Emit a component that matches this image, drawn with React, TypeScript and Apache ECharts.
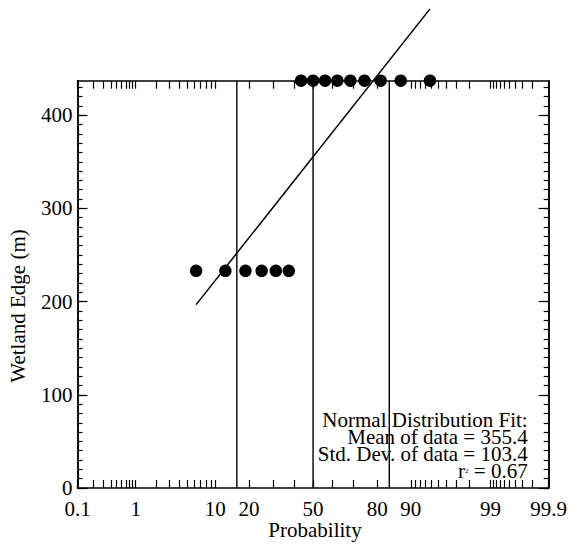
import React, { useEffect, useRef } from "react";
import * as echarts from "echarts";

// ---- data ----
// Plotting positions (percent) of the 15 sorted observations: i/(n+1)
const PROBABILITIES = [6.25, 12.5, 18.75, 25, 31.25, 37.5, 43.75, 50, 56.25, 62.5, 68.75, 75, 81.25, 87.5, 93.75];
const WETLAND_EDGE = [233, 233, 233, 233, 233, 233, 437, 437, 437, 437, 437, 437, 437, 437, 437];
const MEAN = 355.4;
const STD_DEV = 103.4;
const R_SQUARED = "0.67";
// vertical reference lines at mean-1sd, mean, mean+1sd (percent)
const SIGMA_PROBS = [15.87, 50, 84.13];
// axis ticks
const X_TICK_PROBS = [0.1, 0.2, 0.3, 0.4, 0.5, 0.6, 0.7, 0.8, 0.9, 1, 2, 3, 4, 5, 6, 7, 8, 9, 10, 20, 30, 40, 50, 60, 70, 80, 90, 91, 92, 93, 94, 95, 96, 97, 98, 99, 99.1, 99.2, 99.3, 99.4, 99.5, 99.6, 99.7, 99.8, 99.9];
const X_LABEL_PROBS = [0.1, 1, 10, 20, 50, 80, 90, 99, 99.9];
const X_LABELS = ["0.1", "1", "10", "20", "50", "80", "90", "99", "99.9"];
const Y_LABELS = [0, 100, 200, 300, 400];
const Y_MAX = 437;

const FONT = "'Liberation Serif', 'Times New Roman', serif";
const FS = 21;

// inverse standard normal CDF (probability-axis scale)
function normInv(pPercent: number): number {
  const p = pPercent / 100;
  const a = [-3.969683028665376e1, 2.209460984245205e2, -2.759285104469687e2, 1.38357751867269e2, -3.066479806614716e1, 2.506628277459239];
  const b = [-5.447609879822406e1, 1.615858368580409e2, -1.556989798598866e2, 6.680131188771972e1, -1.328068155288572e1];
  const c = [-7.784894002430293e-3, -3.223964580411365e-1, -2.400758277161838, -2.549732539343734, 4.374664141464968, 2.938163982698783];
  const d = [7.784695709041462e-3, 3.224671290700398e-1, 2.445134137142996, 3.754408661907416];
  const plow = 0.02425;
  const phigh = 1 - plow;
  if (p < plow) {
    const q = Math.sqrt(-2 * Math.log(p));
    return (((((c[0] * q + c[1]) * q + c[2]) * q + c[3]) * q + c[4]) * q + c[5]) /
      ((((d[0] * q + d[1]) * q + d[2]) * q + d[3]) * q + 1);
  }
  if (p <= phigh) {
    const q = p - 0.5;
    const r = q * q;
    return ((((((a[0] * r + a[1]) * r + a[2]) * r + a[3]) * r + a[4]) * r + a[5]) * q) /
      (((((b[0] * r + b[1]) * r + b[2]) * r + b[3]) * r + b[4]) * r + 1);
  }
  const q = Math.sqrt(-2 * Math.log(1 - p));
  return -(((((c[0] * q + c[1]) * q + c[2]) * q + c[3]) * q + c[4]) * q + c[5]) /
    ((((d[0] * q + d[1]) * q + d[2]) * q + d[3]) * q + 1);
}

export default function App() {
  const ref = useRef<HTMLDivElement>(null);

  useEffect(() => {
    document.body.style.margin = "0";
    if (!ref.current) return;
    const chart = echarts.init(ref.current, undefined, { renderer: "svg" });

    const xMin = normInv(X_LABEL_PROBS[0]);
    const xMax = normInv(X_LABEL_PROBS[X_LABEL_PROBS.length - 1]);
    const tickZ = X_TICK_PROBS.map(normInv);
    const labelZ = X_LABEL_PROBS.map(normInv);
    const fmtX = (v: number) => {
      let best = 0;
      let bd = Infinity;
      labelZ.forEach((z, i) => {
        const dd = Math.abs(z - v);
        if (dd < bd) { bd = dd; best = i; }
      });
      return X_LABELS[best];
    };
    const yMinor: number[] = [];
    for (let v = 0; v <= Y_MAX; v += 10) yMinor.push(v);

    const axisLine = { show: true, onZero: false, lineStyle: { color: "#000", width: 1.5 } };
    const tickLine = { color: "#000", width: 1.2 };

    const points = PROBABILITIES.map((p, i) => [normInv(p), WETLAND_EDGE[i]]);
    const zLo = normInv(PROBABILITIES[0]);
    const zHi = normInv(PROBABILITIES[PROBABILITIES.length - 1]);
    const fit = [[zLo, MEAN + STD_DEV * zLo], [zHi, MEAN + STD_DEV * zHi]];

    const sigmaSeries = SIGMA_PROBS.map((p) => ({
      type: "line",
      xAxisIndex: 0,
      yAxisIndex: 0,
      data: [[normInv(p), 0], [normInv(p), Y_MAX]],
      symbol: "none",
      lineStyle: { color: "#000", width: 1.4 },
      silent: true,
    }));

    const textBase = { fill: "#000", fontFamily: FONT, fontSize: FS };
    const noteStyle = { ...textBase, align: "right", verticalAlign: "middle" };
    const NOTE_X = 527.7;

    chart.setOption({
      animation: false,
      backgroundColor: "#fff",
      grid: { left: 77.5, right: 18.3, top: 80.7, bottom: 57, containLabel: false },
      xAxis: [
        {
          type: "value", position: "bottom", min: xMin, max: xMax,
          axisLine,
          axisTick: { show: true, inside: true, length: 8, customValues: tickZ, lineStyle: tickLine },
          axisLabel: { show: true, customValues: labelZ, formatter: fmtX, color: "#000", fontFamily: FONT, fontSize: FS, margin: 10 },
          splitLine: { show: false },
        },
        {
          type: "value", position: "top", min: xMin, max: xMax,
          axisLine,
          axisTick: { show: true, inside: true, length: 8, customValues: tickZ, lineStyle: tickLine },
          axisLabel: { show: false },
          splitLine: { show: false },
        },
      ],
      yAxis: [
        {
          type: "value", position: "left", min: 0, max: Y_MAX,
          axisLine,
          axisTick: { show: true, inside: true, length: 10, customValues: Y_LABELS, lineStyle: tickLine },
          axisLabel: { show: true, customValues: Y_LABELS, color: "#000", fontFamily: FONT, fontSize: FS, margin: 5 },
          splitLine: { show: false },
        },
        {
          type: "value", position: "left", min: 0, max: Y_MAX,
          axisLine,
          axisTick: { show: true, inside: true, length: 5, customValues: yMinor, lineStyle: tickLine },
          axisLabel: { show: false },
          splitLine: { show: false },
        },
        {
          type: "value", position: "right", min: 0, max: Y_MAX,
          axisLine,
          axisTick: { show: true, inside: true, length: 10, customValues: Y_LABELS, lineStyle: tickLine },
          axisLabel: { show: false },
          splitLine: { show: false },
        },
        {
          type: "value", position: "right", min: 0, max: Y_MAX,
          axisLine,
          axisTick: { show: true, inside: true, length: 5, customValues: yMinor, lineStyle: tickLine },
          axisLabel: { show: false },
          splitLine: { show: false },
        },
      ],
      series: [
        ...sigmaSeries,
        {
          type: "line",
          xAxisIndex: 0,
          yAxisIndex: 0,
          data: fit,
          symbol: "none",
          clip: false,
          lineStyle: { color: "#000", width: 1.5 },
          silent: true,
        },
        {
          type: "scatter",
          xAxisIndex: 0,
          yAxisIndex: 0,
          data: points,
          symbol: "circle",
          symbolSize: 12.5,
          clip: false,
          itemStyle: { color: "#000", opacity: 1 },
          z: 5,
        },
      ],
      graphic: [
        { type: "text", x: NOTE_X, y: 420.1, style: { ...noteStyle, text: "Normal Distribution Fit:" } },
        { type: "text", x: NOTE_X, y: 437.2, style: { ...noteStyle, text: "Mean of data = " + MEAN.toFixed(1) } },
        { type: "text", x: NOTE_X, y: 454.2, style: { ...noteStyle, text: "Std. Dev. of data = " + STD_DEV.toFixed(1) } },
        {
          type: "text", x: NOTE_X, y: 471.4,
          style: {
            ...noteStyle,
            text: "{a|r}{s|2}{a| = " + R_SQUARED + "}",
            rich: {
              a: { fontFamily: FONT, fontSize: FS, fill: "#000" },
              s: { fontFamily: FONT, fontSize: 7, fill: "#000" },
            },
          },
        },
        {
          type: "text", x: 315, y: 529.5,
          style: { ...textBase, text: "Probability", align: "center", verticalAlign: "middle" },
        },
        {
          type: "text", x: 18, y: 306, rotation: Math.PI / 2,
          style: { ...textBase, text: "Wetland Edge (m)", align: "center", verticalAlign: "middle" },
        },
      ],
    });

    return () => chart.dispose();
  }, []);

  return <div ref={ref} style={{ width: 570, height: 545 }} />;
}
